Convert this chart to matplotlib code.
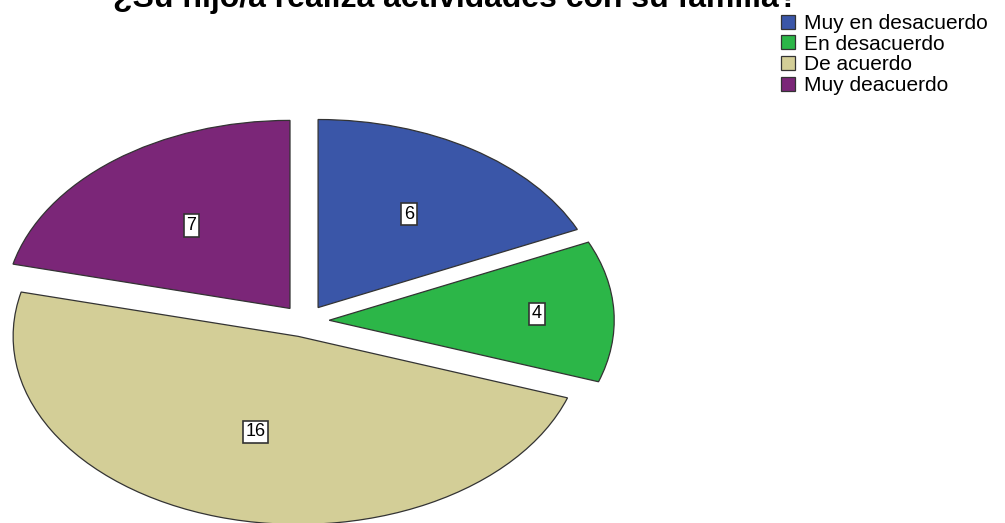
import numpy as np
import matplotlib.pyplot as plt

plt.rcParams['font.family'] = ['Liberation Sans', 'DejaVu Sans']

titulo = '¿Su hijo/a realiza actividades con su familia?'
categorias = ['Muy en desacuerdo', 'En desacuerdo', 'De acuerdo', 'Muy deacuerdo']
frecuencias = [6, 4, 16, 7]
colores = ['#3A56A8', '#2CB648', '#D3CE97', '#7B2678']

# distance of each count label from the slice apex (fraction of radius)
dist_etiqueta = [0.59, 0.73, 0.53, 0.56]

fig = plt.figure(figsize=(10.05, 5.23), dpi=100)
ax = fig.add_axes([0, 0, 1, 1])

wedges, _ = ax.pie(frecuencias, colors=colores, startangle=90, counterclock=False,
                   explode=[0.085] * len(frecuencias),
                   wedgeprops=dict(edgecolor='#333333', linewidth=0.9))

for w, n, d in zip(wedges, frecuencias, dist_etiqueta):
    ang = np.deg2rad((w.theta1 + w.theta2) / 2)
    cx, cy = w.center
    ax.text(cx + d * np.cos(ang), cy + d * np.sin(ang), str(n),
            ha='center', va='center', fontsize=13,
            bbox=dict(boxstyle='square,pad=0.15', facecolor='white',
                      edgecolor='#333333', linewidth=1.2))

# stretched ellipse: the axes fill the figure, limits set per axis
ax.set_aspect('auto')
ax.set_xlim(-1.07, 2.456)
ax.set_ylim(-1.074, 1.707)
ax.axis('off')

fig.text(456 / 1005, 1 - 7 / 523, titulo, ha='center', va='baseline',
         fontsize=23, fontweight='bold')

fig.legend(wedges, categorias, loc='upper left', bbox_to_anchor=(781 / 1005, 1 - 14 / 523),
           frameon=False, fontsize=15, handlelength=0.65, handleheight=0.65,
           handletextpad=0.45, labelspacing=0.08, borderpad=0, borderaxespad=0)

fig.savefig('out.png', dpi=100)
